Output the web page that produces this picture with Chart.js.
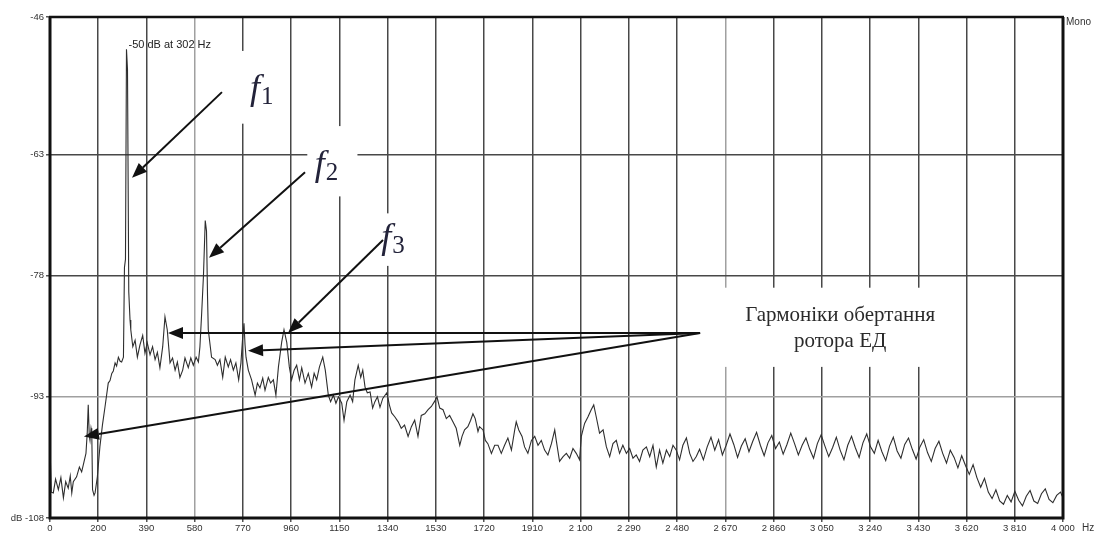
<!DOCTYPE html>
<html>
<head>
<meta charset="utf-8">
<script src="https://cdn.jsdelivr.net/npm/chart.js@4.4.0/dist/chart.umd.min.js"></script>
<style>
  html, body { margin: 0; padding: 0; background: #fff; }
  #wrap { width: 1096px; height: 534px; }
</style>
</head>
<body>
<div id="wrap"><canvas id="c" width="1096" height="534"></canvas></div>
<script>
// Spectrum of the motor noise: frequency (Hz) and level (dB)
const freqHz = [
  0, 5, 13, 22, 33, 43, 53, 62, 72, 80, 86, 92, 105, 116, 125, 134, 142, 147, 151, 155,
  158, 162, 165, 168, 174, 178, 187, 197, 207, 217, 230, 237, 244, 250, 257, 263, 270, 277, 283, 290,
  294, 298, 302, 306, 311, 316, 319, 327, 336, 345, 355, 366, 375, 384, 395, 405, 415, 424, 434, 445,
  454, 463, 474, 484, 494, 503, 513, 524, 533, 546, 556, 566, 577, 586, 592, 599, 606, 613, 618, 622,
  625, 638, 652, 661, 671, 682, 692, 704, 713, 724, 734, 745, 754, 760, 766, 770, 774, 783, 796, 810,
  819, 829, 840, 849, 862, 871, 882, 892, 902, 915, 924, 935, 945, 954, 964, 974, 985, 994, 1007, 1020,
  1033, 1043, 1053, 1064, 1077, 1087, 1099, 1108, 1119, 1129, 1139, 1152, 1161, 1172, 1185, 1195, 1204, 1217, 1227, 1235,
  1244, 1253, 1264, 1274, 1283, 1293, 1303, 1314, 1330, 1340, 1349, 1362, 1375, 1387, 1400, 1414, 1427, 1440, 1453, 1466,
  1480, 1493, 1506, 1518, 1528, 1539, 1552, 1565, 1578, 1591, 1604, 1618, 1627, 1637, 1650, 1661, 1670, 1679, 1690, 1696,
  1710, 1719, 1729, 1743, 1756, 1769, 1782, 1795, 1808, 1822, 1835, 1841, 1851, 1864, 1874, 1887, 1901, 1914, 1927, 1940,
  1953, 1966, 1980, 1993, 1999, 2012, 2026, 2039, 2052, 2065, 2078, 2091, 2098, 2111, 2124, 2137, 2147, 2157, 2170, 2184,
  2197, 2210, 2223, 2236, 2249, 2262, 2276, 2289, 2302, 2315, 2328, 2341, 2355, 2368, 2381, 2394, 2407, 2420, 2434, 2447,
  2460, 2473, 2486, 2499, 2513, 2526, 2539, 2552, 2565, 2580, 2595, 2610, 2625, 2640, 2655, 2670, 2685, 2700, 2715, 2730,
  2745, 2760, 2775, 2790, 2805, 2820, 2835, 2850, 2865, 2880, 2895, 2910, 2925, 2940, 2955, 2970, 2985, 3000, 3015, 3030,
  3045, 3060, 3075, 3090, 3105, 3120, 3135, 3150, 3165, 3180, 3195, 3210, 3225, 3240, 3255, 3270, 3285, 3300, 3315, 3330,
  3345, 3360, 3375, 3390, 3405, 3420, 3435, 3450, 3465, 3480, 3495, 3510, 3525, 3540, 3555, 3570, 3585, 3600, 3615, 3630,
  3645, 3660, 3675, 3690, 3705, 3720, 3735, 3750, 3765, 3780, 3795, 3810, 3825, 3840, 3855, 3870, 3885, 3900, 3915, 3930,
  3945, 3960, 3975, 3990, 4000
];
const levelDb = [
  -99.0, -104.8, -104.9, -103.2, -104.5, -103.0, -105.5, -103.5, -104.3, -102.8, -104.9, -103.5, -102.9, -101.7, -102.3, -101.1, -100.0, -97.5, -94.0, -97.8,
  -98.4, -96.9, -97.5, -104.5, -105.2, -104.9, -102.9, -99.2, -96.5, -94.3, -91.3, -91.0, -90.1, -89.8, -88.8, -89.2, -88.1, -88.6, -88.7, -88.1,
  -77.0, -76.0, -50.0, -52.5, -80.0, -83.5, -84.7, -86.8, -86.0, -88.1, -86.6, -85.4, -87.6, -86.3, -87.8, -86.8, -88.4, -87.5, -89.4, -86.8,
  -83.1, -84.7, -88.8, -88.2, -89.7, -88.7, -90.6, -89.7, -88.2, -89.4, -88.2, -89.1, -88.1, -88.7, -86.8, -82.6, -78.0, -71.2, -72.5, -80.5,
  -84.7, -88.1, -88.4, -89.1, -88.4, -90.6, -88.1, -89.3, -88.4, -89.7, -88.8, -90.9, -88.8, -86.0, -83.9, -86.5, -88.1, -89.7, -90.9, -92.8,
  -91.3, -91.9, -90.7, -92.2, -90.6, -91.3, -90.9, -92.8, -89.3, -86.2, -84.7, -86.3, -89.3, -90.9, -89.7, -89.1, -90.9, -89.4, -91.3, -90.1,
  -91.8, -90.1, -90.9, -89.3, -88.1, -89.7, -92.8, -93.6, -92.8, -93.8, -93.0, -93.8, -95.9, -93.6, -92.8, -93.6, -90.9, -89.1, -90.6, -89.7,
  -91.8, -92.5, -92.4, -94.4, -93.6, -93.0, -94.3, -93.2, -92.5, -94.0, -95.0, -95.5, -96.1, -96.9, -96.5, -97.9, -96.7, -95.9, -97.9, -95.3,
  -95.1, -94.6, -94.2, -93.6, -93.0, -94.4, -94.6, -95.7, -95.3, -96.1, -96.9, -99.0, -97.9, -97.1, -96.7, -95.9, -95.1, -95.7, -97.3, -96.7,
  -97.1, -98.4, -98.8, -100.0, -99.0, -99.0, -100.0, -99.0, -98.1, -99.6, -97.1, -96.1, -97.1, -97.9, -99.2, -100.0, -98.4, -97.9, -99.0, -98.4,
  -99.6, -100.2, -98.8, -97.1, -98.4, -101.0, -100.4, -100.0, -100.6, -99.4, -100.0, -100.8, -97.9, -96.3, -95.5, -94.6, -94.0, -95.5, -97.5, -97.1,
  -99.2, -100.4, -98.8, -98.4, -100.0, -99.0, -100.0, -99.4, -100.6, -100.2, -101.0, -99.6, -99.2, -100.4, -99.0, -101.7, -99.6, -101.2, -99.6, -100.4,
  -99.0, -99.6, -100.8, -99.0, -98.1, -100.0, -101.0, -100.4, -99.5, -100.8, -99.2, -98.0, -99.6, -98.3, -100.2, -99.0, -97.6, -98.9, -100.5, -99.1,
  -98.2, -99.8, -98.5, -97.4, -99.0, -100.3, -98.7, -97.8, -99.4, -98.6, -100.1, -98.9, -97.5, -98.8, -100.2, -99.0, -98.1, -99.5, -100.6, -98.8,
  -97.7, -99.1, -100.4, -99.3, -98.0, -99.6, -100.8, -99.0, -97.9, -99.3, -100.5, -98.7, -97.6, -99.2, -100.0, -98.4, -99.8, -100.9, -99.1, -98.0,
  -99.7, -100.6, -98.9, -98.1, -99.5, -100.7, -99.2, -98.3, -99.9, -101.0, -99.4, -98.5, -100.0, -101.2, -99.6, -100.5, -101.8, -100.3, -101.5, -102.6,
  -101.4, -103.0, -104.2, -103.1, -104.8, -105.6, -104.5, -105.9, -106.3, -105.2, -106.0, -104.7, -105.8, -106.5, -105.3, -104.6, -105.9, -106.2, -105.0, -104.4,
  -105.7, -106.1, -105.2, -104.8, -105.5
];

// Axis ticks
const xMaxHz = 4000;
const xGridSteps = 21;
const xTickLabels = ['0', '200', '390', '580', '770', '960', '1150', '1340', '1530', '1720', '1910',
  '2 100', '2 290', '2 480', '2 670', '2 860', '3 050', '3 240', '3 430', '3 620', '3 810', '4 000'];
const yTickValues = [-108, -93, -78, -63, -46];
const yTickLabels = ['dB -108', '-93', '-78', '-63', '-46'];

// Annotation anchors in data units (Hz, dB)
const peakLabelOffsetPx = 2;
const fLabels = [
  { sub: '1', at: [790, -56.1], tail: [679, -55.3], tip: [324, -65.9] },
  { sub: '2', at: [1045, -65.5], tail: [1007, -65.2], tip: [628, -75.8] },
  { sub: '3', at: [1308, -74.6], tail: [1315, -73.6], tip: [940, -85.1] }
];
const harmonicsText = ['Гармоніки обертання', 'ротора ЕД'];
const harmonicsTextCenter = [3120, -84.1];
const harmonicsOrigin = [2567, -85.1];
const harmonicsTips = [[466, -85.1], [782, -87.3], [134, -97.9]];
// white label backgrounds: [Hz from, Hz to, dB top, dB bottom]
const labelBoxes = [
  [731, 928, -50.2, -59.2],
  [1016, 1214, -59.5, -68.2],
  [1277, 1455, -70.3, -76.8],
  [2587, 3495, -79.5, -89.3]
];

const xTickValues = Array.from({ length: xGridSteps + 1 }, (_, k) => k * xMaxHz / xGridSteps);
const lightX = new Set([3, 14]);
const lightY = new Set([-93]);

function px(chart, p) {
  return [chart.scales.x.getPixelForValue(p[0]), chart.scales.y.getPixelForValue(p[1])];
}
function arrow(ctx, from, to) {
  const ang = Math.atan2(to[1] - from[1], to[0] - from[0]);
  const len = 15, half = 6;
  const bx = to[0] - len * Math.cos(ang), by = to[1] - len * Math.sin(ang);
  ctx.beginPath();
  ctx.moveTo(from[0], from[1]);
  ctx.lineTo(bx, by);
  ctx.stroke();
  ctx.beginPath();
  ctx.moveTo(to[0], to[1]);
  ctx.lineTo(bx + half * Math.sin(ang), by - half * Math.cos(ang));
  ctx.lineTo(bx - half * Math.sin(ang), by + half * Math.cos(ang));
  ctx.closePath();
  ctx.fill();
}

const labelBackgrounds = {
  id: 'labelBackgrounds',
  beforeDatasetsDraw(chart) {
    const ctx = chart.ctx;
    ctx.save();
    ctx.fillStyle = '#fff';
    labelBoxes.forEach(b => {
      const a = px(chart, [b[0], b[2]]), c = px(chart, [b[1], b[3]]);
      ctx.fillRect(a[0], a[1], c[0] - a[0], c[1] - a[1]);
    });
    ctx.restore();
  }
};

const annotations = {
  id: 'annotations',
  afterDatasetsDraw(chart) {
    const ctx = chart.ctx;
    ctx.save();
    // peak readout
    let iMax = 0;
    levelDb.forEach((v, i) => { if (v > levelDb[iMax]) iMax = i; });
    const pk = px(chart, [freqHz[iMax], levelDb[iMax]]);
    ctx.fillStyle = '#222';
    ctx.font = '11px "Liberation Sans", Arial, sans-serif';
    ctx.textAlign = 'left';
    ctx.textBaseline = 'alphabetic';
    ctx.fillText(`${Math.round(levelDb[iMax])} dB at ${freqHz[iMax]} Hz`, pk[0] + peakLabelOffsetPx, pk[1] - 1);

    // f1..f3 labels and arrows
    ctx.strokeStyle = '#111';
    ctx.fillStyle = '#111';
    ctx.lineWidth = 2;
    fLabels.forEach(f => {
      arrow(ctx, px(chart, f.tail), px(chart, f.tip));
    });
    fLabels.forEach(f => {
      const p = px(chart, f.at);
      ctx.fillStyle = '#23233a';
      ctx.font = 'italic 36px "Liberation Serif", "Times New Roman", serif';
      ctx.fillText('f', p[0], p[1]);
      const w = ctx.measureText('f').width;
      ctx.font = '25px "Liberation Serif", "Times New Roman", serif';
      ctx.fillText(f.sub, p[0] + w + 1, p[1] + 5);
    });

    // harmonics label with its arrows
    ctx.strokeStyle = '#111';
    ctx.fillStyle = '#111';
    const o = px(chart, harmonicsOrigin);
    harmonicsTips.forEach(t => arrow(ctx, o, px(chart, t)));
    const c = px(chart, harmonicsTextCenter);
    ctx.fillStyle = '#2a2a2a';
    ctx.font = '21px "Liberation Serif", "Times New Roman", serif';
    ctx.textAlign = 'center';
    ctx.fillText(harmonicsText[0], c[0], c[1] - 4);
    ctx.fillText(harmonicsText[1], c[0], c[1] + 22);
    ctx.restore();
  }
};

const frame = {
  id: 'frame',
  afterDraw(chart) {
    const { ctx, chartArea: a } = chart;
    ctx.save();
    ctx.strokeStyle = '#111';
    ctx.lineWidth = 3;
    ctx.beginPath();
    ctx.moveTo(a.left, a.top);
    ctx.lineTo(a.left, a.bottom);
    ctx.lineTo(a.right, a.bottom);
    ctx.lineTo(a.right, a.top);
    ctx.stroke();
    ctx.lineWidth = 2.5;
    ctx.beginPath();
    ctx.moveTo(a.left - 1, a.top);
    ctx.lineTo(a.right + 1, a.top);
    ctx.stroke();
    ctx.fillStyle = '#333';
    ctx.font = '10px "Liberation Sans", Arial, sans-serif';
    ctx.textAlign = 'left';
    ctx.textBaseline = 'middle';
    ctx.fillText('Mono', a.right + 3, a.top + 5);
    ctx.fillText('Hz', a.right + 19, a.bottom + 10);
    ctx.restore();
  }
};

new Chart(document.getElementById('c'), {
  type: 'line',
  data: {
    datasets: [{
      data: freqHz.map((f, i) => ({ x: f, y: levelDb[i] })),
      borderColor: '#2e2e2e',
      borderWidth: 1.1,
      pointRadius: 0,
      tension: 0,
      fill: false
    }]
  },
  options: {
    responsive: false,
    animation: false,
    events: [],
    layout: { padding: { left: 0, right: 33, top: 17, bottom: 0 } },
    plugins: { legend: { display: false }, tooltip: { enabled: false } },
    scales: {
      x: {
        type: 'linear',
        min: 0,
        max: xMaxHz,
        afterBuildTicks: axis => { axis.ticks = xTickValues.map(v => ({ value: v })); },
        afterFit: axis => { axis.height = 16; },
        border: { display: false },
        grid: {
          color: ctx => (ctx.index === 0 || ctx.index === xGridSteps) ? 'rgba(0,0,0,0)' : (lightX.has(ctx.index) ? '#a0a0a0' : '#484848'),
          tickColor: '#555',
          lineWidth: 1.5,
          tickLength: 4
        },
        ticks: {
          autoSkip: false,
          maxRotation: 0,
          padding: 1,
          color: '#333',
          font: { size: 9.5, family: '"Liberation Sans", Arial, sans-serif' },
          callback: (v, i) => xTickLabels[i]
        }
      },
      y: {
        type: 'linear',
        min: -108,
        max: -46,
        afterBuildTicks: axis => { axis.ticks = yTickValues.map(v => ({ value: v })); },
        afterFit: axis => { axis.width = 50; },
        border: { display: false },
        grid: {
          color: ctx => (ctx.tick && (ctx.tick.value === -108 || ctx.tick.value === -46)) ? 'rgba(0,0,0,0)' : (ctx.tick && lightY.has(ctx.tick.value) ? '#a0a0a0' : '#484848'),
          tickColor: '#555',
          lineWidth: 1.5,
          tickLength: 4
        },
        ticks: {
          padding: 2,
          color: '#333',
          font: { size: 9.5, family: '"Liberation Sans", Arial, sans-serif' },
          callback: (v, i) => yTickLabels[i]
        }
      }
    }
  },
  plugins: [labelBackgrounds, annotations, frame]
});
</script>
</body>
</html>
